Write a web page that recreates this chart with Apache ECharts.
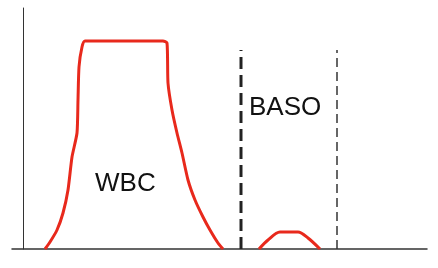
<!DOCTYPE html>
<html>
<head>
<meta charset="utf-8">
<script src="https://cdn.jsdelivr.net/npm/echarts@6/dist/echarts.min.js"></script>
<style>html,body{margin:0;padding:0;background:#fff}#c{width:438px;height:268px}</style>
</head>
<body>
<div id="c"></div>
<script>
// Histogram outline values (channel, count)
var wbcX = [22, 27, 34, 40, 45, 49, 54, 55, 56, 59, 62, 140, 144, 145, 149, 154, 159, 165, 172, 180, 187, 195, 200];
var wbcY = [0, 7, 19, 36, 59, 92, 116, 149, 182, 202, 208, 208, 206, 166, 139, 116, 96, 69, 49, 32, 19, 6, 0];
var basoX = [236, 245, 257, 275, 285, 297];
var basoY = [0, 9, 17, 17, 11, 0];
var gate1X = 218, gate2X = 314, gateTop = 199;
var labels = ['WBC', 'BASO'];

function pairs(xs, ys) { return xs.map(function (x, i) { return [x, ys[i]]; }); }

var chart = echarts.init(document.getElementById('c'));
chart.setOption({
  animation: false,
  grid: { left: 12, right: 11, top: 8, bottom: 19 },
  xAxis: {
    type: 'value', min: -11, max: 404,
    axisLine: { onZero: false, lineStyle: { color: '#333', width: 1.5 } },
    axisTick: { show: false }, axisLabel: { show: false }, splitLine: { show: false }
  },
  yAxis: {
    type: 'value', min: 0, max: 241,
    axisLine: { show: true, onZero: true, lineStyle: { color: '#333', width: 1 } },
    axisTick: { show: false }, axisLabel: { show: false }, splitLine: { show: false }
  },
  series: [
    { type: 'line', data: pairs(wbcX, wbcY), smooth: 0.2, showSymbol: false,
      lineStyle: { color: '#e8291c', width: 3 } },
    { type: 'line', data: pairs(basoX, basoY), smooth: 0.3, showSymbol: false,
      lineStyle: { color: '#e8291c', width: 3 } },
    { type: 'line', data: [[gate1X, 0], [gate1X, gateTop]], showSymbol: false,
      lineStyle: { color: '#222', width: 3, type: [12, 6] } },
    { type: 'line', data: [[gate2X, 0], [gate2X, gateTop]], showSymbol: false,
      lineStyle: { color: '#333', width: 1.5, type: [9, 5] } }
  ],
  graphic: [
    { type: 'text', left: 95, top: 171, style: { text: labels[0], font: '26px "Liberation Sans", Arial, sans-serif', fill: '#111' } },
    { type: 'text', left: 249, top: 95, style: { text: labels[1], font: '26px "Liberation Sans", Arial, sans-serif', fill: '#111' } }
  ]
});
</script>
</body>
</html>
